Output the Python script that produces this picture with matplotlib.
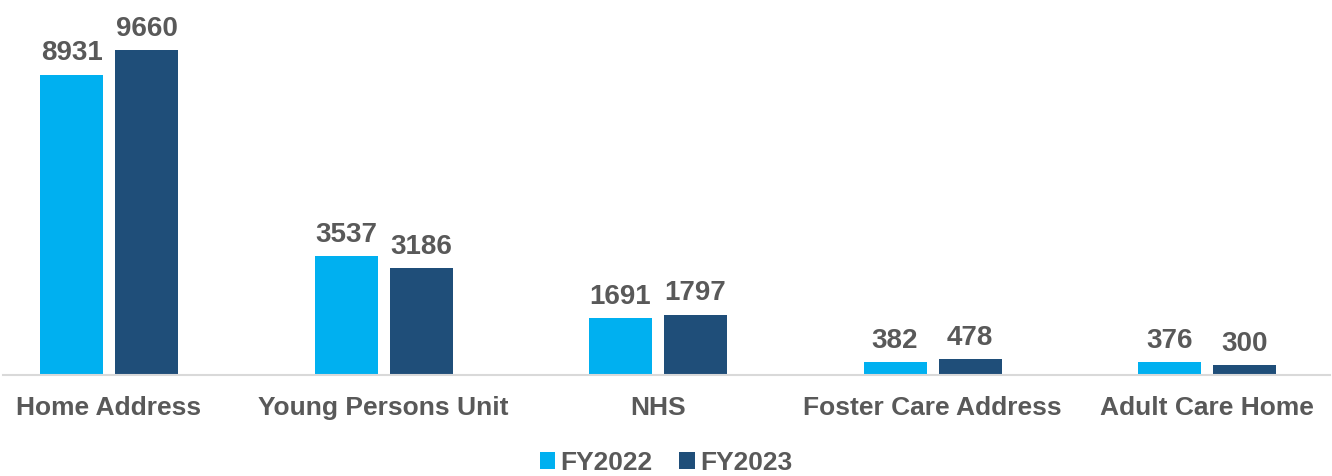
import matplotlib.pyplot as plt
import numpy as np

categories = ["Home Address", "Young Persons Unit", "NHS", "Foster Care Address", "Adult Care Home"]
fy2022 = [8931, 3537, 1691, 382, 376]
fy2023 = [9660, 3186, 1797, 478, 300]

plt.rcParams['font.family'] = ['Liberation Sans', 'DejaVu Sans']
text_col = '#595959'

fig = plt.figure(figsize=(13.32, 4.76), dpi=100)
ax = fig.add_axes([3 / 1332, 101 / 476, 1327 / 1332, 370 / 476])

x = np.arange(len(categories))
w = 63 / 274.5
off = 37.5 / 274.5
b1 = ax.bar(x - off, fy2022, w, color='#00B0F0', label='FY2022')
b2 = ax.bar(x + off, fy2023, w, color='#1F4E79', label='FY2023')

for bars in (b1, b2):
    for r in bars:
        ax.annotate(f"{int(r.get_height())}", (r.get_x() + r.get_width() / 2, r.get_height()),
                    xytext=(0, 6), textcoords='offset points', ha='center', va='bottom',
                    fontsize=20, fontweight='bold', color=text_col)

ax.set_xlim(-(106 / 274.5), 4 + 123 / 274.5)
ax.set_ylim(0, 11000)
ax.set_xticks(x)
ax.set_xticklabels(categories, fontsize=19, fontweight='bold', color=text_col)
ax.tick_params(axis='x', length=0, pad=15)
ax.set_yticks([])
for s in ['top', 'right', 'left']:
    ax.spines[s].set_visible(False)
ax.spines['bottom'].set_color('#D9D9D9')
ax.spines['bottom'].set_linewidth(1.5)

leg = fig.legend(loc='center', bbox_to_anchor=(0.5, 13 / 476), ncol=2, frameon=False,
                 prop={'size': 19, 'weight': 'bold'}, handlelength=0.6, handleheight=0.6,
                 handletextpad=0.2, columnspacing=1.0, borderpad=0)
for t in leg.get_texts():
    t.set_color(text_col)

fig.savefig('out.png', dpi=100)
